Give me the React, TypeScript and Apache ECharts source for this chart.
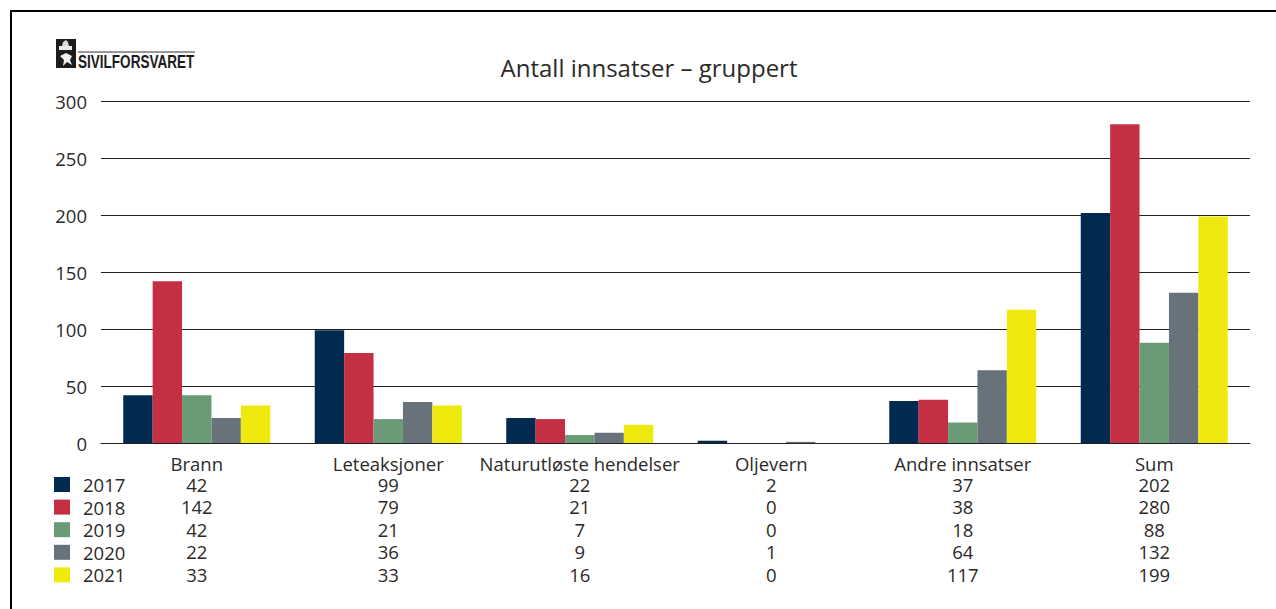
import React, { useEffect, useRef } from "react";
import * as echarts from "echarts";

const categories = ["Brann", "Leteaksjoner", "Naturutløste hendelser", "Oljevern", "Andre innsatser", "Sum"];
const years = ["2017", "2018", "2019", "2020", "2021"];
const v2017 = [42, 99, 22, 2, 37, 202];
const v2018 = [142, 79, 21, 0, 38, 280];
const v2019 = [42, 21, 7, 0, 18, 88];
const v2020 = [22, 36, 9, 1, 64, 132];
const v2021 = [33, 33, 16, 0, 117, 199];
const allValues = [v2017, v2018, v2019, v2020, v2021];
const colors = ["#002b4f", "#c52f43", "#6a9a76", "#68727a", "#f0e90e"];

const FONT = "'Open Sans', 'Noto Sans', sans-serif";
const TEXT = "#2b2a29";
const FS = 18.5;

export default function App() {
  const ref = useRef<HTMLDivElement>(null);
  useEffect(() => {
    const chart = echarts.init(ref.current!, undefined, { renderer: "svg" });
    const rowOffsets = [41, 63.5, 86, 108.5, 131];
    const tableAxes = allValues.map((vals, i) => ({
      type: "category" as const,
      position: "bottom" as const,
      gridIndex: 0,
      offset: rowOffsets[i],
      data: vals.map(String),
      axisLine: { show: false },
      axisTick: { show: false },
      splitLine: { show: false },
      axisLabel: {
        interval: 0, margin: 0, color: TEXT, fontFamily: FONT, fontSize: FS,
        verticalAlign: "middle" as const, lineHeight: 18,
      },
    }));
    chart.setOption({
      animation: false,
      backgroundColor: "#fff",
      title: {
        text: "Antall innsatser – gruppert",
        left: 644, top: 50, textAlign: "center",
        textStyle: { fontFamily: FONT, fontWeight: "normal", fontSize: 24, color: TEXT },
      },
      grid: { left: 101, right: 26, top: 101.5, bottom: 166 },
      legend: {
        left: 54, top: 475, orient: "vertical", icon: "rect", padding: 0,
        itemWidth: 16, itemHeight: 15, itemGap: 3.6,
        data: years, selectedMode: false,
        textStyle: { fontFamily: FONT, fontSize: FS, color: TEXT, padding: [0, 0, 0, 8] },
      },
      xAxis: [
        {
          type: "category",
          data: categories,
          axisLine: { lineStyle: { color: "#222", width: 1 } },
          axisTick: { show: false },
          axisLabel: {
            interval: 0, margin: 11, color: TEXT, fontFamily: FONT, fontSize: FS, lineHeight: 18,
          },
        },
        ...tableAxes,
      ],
      yAxis: {
        type: "value", min: 0, max: 300, interval: 50,
        axisLine: { show: false },
        axisTick: { show: false },
        splitLine: { lineStyle: { color: "#222", width: 1 } },
        axisLabel: { margin: 14, color: TEXT, fontFamily: FONT, fontSize: FS },
      },
      series: allValues.map((vals, i) => ({
        name: years[i],
        type: "bar",
        data: vals,
        barWidth: 29.4,
        barGap: 0,
        itemStyle: { color: colors[i] },
        z: 3,
      })),
      graphic: [
        { type: "line", shape: { x1: 11, y1: 11, x2: 1276, y2: 11 }, style: { stroke: "#000", lineWidth: 2 } },
        { type: "line", shape: { x1: 11, y1: 10, x2: 11, y2: 609 }, style: { stroke: "#000", lineWidth: 2 } },
        { type: "rect", shape: { x: 56, y: 39, width: 20, height: 29 }, style: { fill: "#1c1c1c" } },
        { type: "rect", shape: { x: 59, y: 46, width: 13, height: 4 }, style: { fill: "#e8e8e8" } },
        { type: "polygon", shape: { points: [[62, 46], [63, 42], [66, 40], [68, 42], [69, 46]] }, style: { fill: "#d8d8d8" } },
        { type: "polygon", shape: { points: [[60, 56], [66, 53], [72, 56], [70, 60], [72, 65], [67, 62], [63, 66], [64, 60]] }, style: { fill: "#f2f2f2" } },
        { type: "line", shape: { x1: 78, y1: 52, x2: 195, y2: 52 }, style: { stroke: "#333", lineWidth: 1 } },
        {
          type: "text", x: 78, y: 53, scaleX: 0.77,
          style: { text: "SIVILFORSVARET", fontFamily: "'Liberation Sans'", fontWeight: "bold", fontSize: 17.6, fill: "#1c1c1c" },
        },
      ],
    });
    return () => chart.dispose();
  }, []);
  return <div ref={ref} style={{ position: "fixed", left: 0, top: 0, width: 1276, height: 609 }} />;
}
